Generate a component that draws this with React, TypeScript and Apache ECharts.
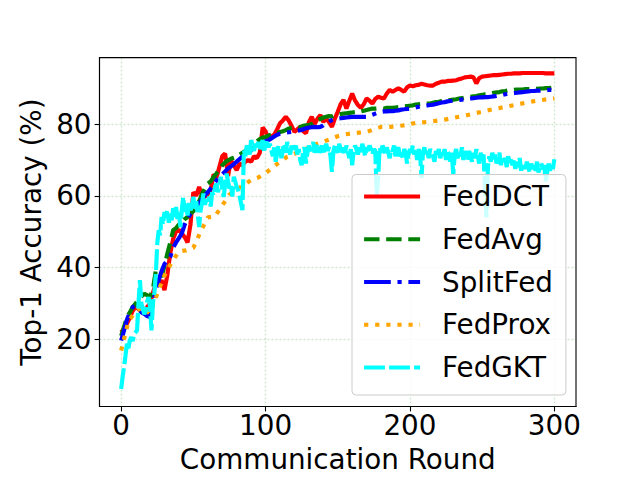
import React, { useEffect, useRef } from "react";
import * as echarts from "echarts";

const seriesNames = ["FedDCT", "FedAvg", "SplitFed", "FedProx", "FedGKT"];
const seriesColors = ["#ff0000", "#008000", "#0000ff", "#ffa500", "#00ffff"];
const xTicks = [0, 100, 200, 300];
const yTicks = [20, 40, 60, 80];

// every 2 rounds (0..300)
const fedDCT = [
  22, 23, 24.4, 26, 28, 29, 28.5, 27.8, 27.6, 29,
  30, 33, 35.5, 35, 36.5, 33.7, 38, 44, 48, 50,
  50.5, 49.5, 48.5, 47, 52, 61, 60, 62.5, 60, 59.7,
  60.5, 61.6, 66, 65, 68, 71, 71.8, 65.5, 69.9, 68.5,
  67.1, 69, 68.5, 69.5, 70, 69.5, 71, 70.5, 72, 79,
  78, 75.5, 76.5, 77, 78.5, 80.2, 81, 82, 81, 79.5,
  77.8, 78.5, 79.2, 78, 77.4, 80.5, 82, 80, 81.5, 82.5,
  80.6, 81.5, 80.5, 79.2, 81.5, 83.4, 85.5, 86.7, 84.3, 86.5,
  88.5, 86.5, 85.3, 84.5, 85.5, 87.1, 86.5, 85.7, 87, 87.6,
  87.3, 87.1, 88.5, 89.5, 89, 89.5, 89.9, 89.5, 89, 90.2,
  90.7, 90.5, 90.8, 90.9, 91.2, 91, 90.8, 90.7, 90.7, 91.2,
  91.5, 91.8, 91.8, 92, 92, 92.1, 92.2, 92.5, 92.7, 93,
  93.1, 93.2, 93, 91.3, 92.8, 93.2, 93.3, 93.4, 93.5, 93.6,
  93.6, 93.7, 93.8, 93.9, 94, 94, 94.1, 94.1, 94.1, 94.2,
  94.2, 94.2, 94.2, 94.2, 94.2, 94.2, 94.2, 94.1, 94.1, 94.1,
  94.1,
];

// every 2 rounds (0..300)
const fedAvg = [
  21, 23.5, 26.2, 27.5, 29, 30, 31, 32, 32.7, 32.3,
  31.8, 34, 39.2, 38.5, 37.4, 40.5, 43.9, 47, 50.4, 51,
  52, 52.5, 53.5, 54.1, 55, 55.7, 56.9, 58.5, 60.5, 62,
  63.4, 64, 65.2, 66.2, 67.3, 68.5, 69.3, 69.9, 70.3, 70.6,
  70.9, 71.5, 72, 72.5, 72.9, 73.5, 74.2, 75.2, 75.8, 76.2,
  76.4, 76.8, 77, 77.2, 77.5, 77.8, 78, 78.3, 78.7, 79,
  79.2, 79.3, 79.1, 79.5, 79.6, 79.7, 80, 80.5, 81, 81.4,
  81.8, 82, 82.2, 82.1, 82.5, 82.6, 82.8, 82.9, 83, 83.1,
  83.2, 83.3, 83.2, 83.5, 83.7, 83.9, 84.1, 84.3, 84.3, 84.4,
  84.4, 84.3, 84.5, 84.5, 84.5, 84.6, 84.7, 84.8, 84.9, 85,
  85.1, 85.2, 85.4, 85.5, 85.6, 85.6, 85.7, 85.7, 85.9, 86.1,
  86.2, 86.4, 86.5, 86.6, 86.7, 86.8, 86.9, 87.1, 87.2, 87.4,
  87.5, 87.6, 87.7, 87.8, 88, 88.1, 88.3, 88.4, 88.5, 88.7,
  88.8, 88.9, 89.1, 89.2, 89.4, 89.5, 89.5, 89.6, 89.6, 89.6,
  89.7, 89.7, 89.7, 89.8, 89.8, 89.9, 89.9, 90, 90, 90.1,
  90.1,
];

// every 2 rounds (0..300)
const splitFed = [
  19.7, 22.5, 25.5, 27.5, 29, 29.5, 28.5, 27.5, 27.1, 26.5,
  26.2, 30, 33.5, 36.5, 39, 41, 42, 43, 45.5, 47,
  48.2, 49.5, 52, 53.6, 55, 55.8, 56.9, 58, 59, 60.2,
  61, 62, 63.2, 64.3, 65.2, 66, 66.8, 67.6, 68.2, 68.8,
  69.5, 70.2, 70.9, 71.4, 72, 72.6, 73.2, 73.6, 74.3, 74.8,
  75.2, 75.5, 76, 76.5, 77, 77.3, 77.4, 77.6, 77.7, 77.8,
  77.9, 78.1, 78.3, 78.5, 78.8, 79, 79.1, 79.2, 79.1, 79.2,
  79.6, 80.2, 80.7, 81.1, 81.4, 81.5, 81.6, 81.7, 81.8, 81.9,
  82, 82, 82, 82, 82, 82, 82.3, 82.6, 82.9, 83.2,
  83.4, 83.5, 83.5, 83.6, 83.6, 83.7, 83.8, 84, 84.1, 84.2,
  84.2, 84.4, 84.6, 84.8, 85, 85.1, 85.2, 85.3, 85.4, 85.6,
  85.8, 86, 86.1, 86.3, 86.4, 86.5, 86.6, 86.7, 86.8, 86.9,
  87, 87.1, 87.2, 87.3, 87.4, 87.4, 87.5, 87.5, 87.6, 87.7,
  87.8, 88, 88.1, 88.3, 88.4, 88.5, 88.6, 88.7, 88.8, 88.9,
  89, 89.1, 89.2, 89.2, 89.3, 89.3, 89.4, 89.4, 89.5, 89.5,
  89.5,
];

// every 5 rounds (0..300)
const fedProx = [
  16.9, 25, 27.8, 29, 27.1, 32.7, 37.8, 41.5, 44.5, 44.8,
  45.5, 50, 54, 54.3, 57.3, 60.3, 61.8, 63, 64.4, 65.1,
  66.3, 67.9, 69.5, 70.9, 71.7, 72.5, 73.5, 74.4, 75.1, 75.8,
  76.6, 77.1, 77.4, 77.6, 77.8, 78.5, 79.2, 79.2, 79.3, 79.6,
  80, 80.4, 80.5, 80.7, 81, 81.3, 81.7, 82.1, 82.5, 83,
  83.4, 83.9, 84.3, 84.7, 85.1, 85.5, 85.9, 86.3, 86.6, 86.9,
  87.1,
];

// every round (0..300)
const fedGKT = [
  6.2, 9.5, 12.3, 15.5, 18.8, 17.5, 19.7, 20.6, 19.5, 21.5, 22,
  22.5, 30, 36.5, 30, 28.5, 27, 28, 30.5, 31.8, 29,
  22.5, 30, 33, 38, 46.7, 50.4, 49, 54.1, 52, 55.5,
  54, 56, 52.5, 55, 53.2, 56.5, 54, 56.9, 53.5, 55.5,
  51.3, 56, 59.7, 55.5, 57.8, 54.5, 58, 56, 57, 59.7,
  56.5, 58.5, 55, 51.3, 56, 58, 60.6, 57.5, 59, 58.5,
  59.7, 57, 61, 60, 62.5, 63.4, 61, 62.5, 65.3, 62,
  59.7, 63, 66.2, 64, 62, 63.4, 59.8, 65.3, 64, 62.5,
  61.6, 60, 58, 56, 72.7, 71, 74, 73, 71.5, 75.5,
  74, 72.5, 74.5, 73.6, 75, 73, 74.5, 75.5, 72, 74.5,
  75, 73.5, 74.5, 72.7, 71, 73.5, 69.5, 72, 74, 72.5,
  70.5, 73, 74.5, 72, 75, 73.5, 71.5, 74, 72.5, 73,
  74, 71.5, 73, 70, 68.5, 72.5, 73.5, 69, 72, 74,
  72.5, 73.5, 75, 72, 73.5, 74.5, 72, 73, 74, 71.5,
  73, 74.5, 72.5, 73.5, 71, 66.7, 72.5, 74, 73, 72,
  74.5, 73, 71.5, 73.5, 72, 74, 72.5, 70.5, 73, 68.5,
  72.5, 74, 73, 71.5, 73.5, 72, 74.5, 73, 71, 73.5,
  72.5, 74, 73, 71.5, 73, 72.5, 60.2, 65, 73.5, 72,
  74, 73, 71.5, 73.5, 72, 70.5, 73, 72.5, 74, 71,
  72.5, 73.5, 71, 72, 70.5, 73, 72, 69, 71.5, 73,
  72, 74, 71.5, 72.5, 70, 73, 71.5, 65, 72, 73.5,
  71, 72.5, 70.5, 73, 72, 71, 69.5, 72.5, 71.5, 73,
  70.5, 72, 71, 73, 70, 72.5, 71.5, 69.5, 72, 66,
  71.5, 73, 70.5, 72, 71, 73.5, 70, 72.5, 71, 70,
  72.5, 71, 69.5, 72, 70.5, 73, 71, 69, 72, 70.5,
  71.5, 62, 54, 68, 71, 69.5, 72, 70, 71.5, 69,
  70.5, 72, 68.5, 71, 69.5, 70.5, 68, 71, 69.5, 70,
  68.5, 70, 67.5, 69.5, 68, 70.5, 67, 69, 68.5, 67.5,
  69.5, 68, 66.5, 69, 67.5, 68.5, 67, 69.5, 66.5, 68,
  69, 67.5, 68.5, 64, 66.5, 69, 67, 68.5, 67.5, 70.2,
];

const FONT = "DejaVu Sans";
const FS = 27.8;
const LW = 4.17;
const dashes: any[] = [
  "solid",
  [15.4, 6.7],
  [26.7, 6.7, 4.2, 6.7],
  [4.2, 6.9],
  [20.8, 4.2],
];
const seriesData = [
  fedDCT.map((v, i) => [i * 2, v]),
  fedAvg.map((v, i) => [i * 2, v]),
  splitFed.map((v, i) => [i * 2, v]),
  fedProx.map((v, i) => [i * 5, v]),
  fedGKT.map((v, i) => [i, v]),
];

export default function App() {
  const ref = useRef<HTMLDivElement>(null);
  useEffect(() => {
    if (!ref.current) return;
    const chart = echarts.init(ref.current, undefined, { renderer: "svg" });
    const gridLine = {
      show: true,
      lineStyle: { color: "rgba(0,128,0,0.18)", width: 1.4, type: [2, 2] as any },
    };
    chart.setOption({
      animation: false,
      backgroundColor: "#ffffff",
      grid: {
        left: 99.5,
        right: 64,
        top: 57.6,
        bottom: 73.5,
        show: true,
        borderColor: "#000",
        borderWidth: 1.1,
        backgroundColor: "transparent",
      },
      legend: {
        orient: "vertical",
        left: 352,
        top: 174.5,
        data: seriesNames,
        itemWidth: 56,
        itemHeight: 30,
        itemGap: 12.75,
        padding: [7, 13, 12.5, 10],
        backgroundColor: "rgba(255,255,255,0.8)",
        borderColor: "#cccccc",
        borderWidth: 1,
        borderRadius: 4,
        lineStyle: { width: LW },
        itemStyle: { opacity: 0 },
        textStyle: {
          fontSize: FS,
          fontFamily: FONT,
          color: "#000",
          lineHeight: 30,
          padding: [0, 0, 0, 17],
        },
      },
      xAxis: {
        type: "value",
        min: -15,
        max: 315,
        name: "Communication Round",
        nameLocation: "middle",
        nameGap: 39,
        nameTextStyle: { fontSize: FS, fontFamily: FONT, color: "#000" },
        axisLine: { show: true, onZero: false, lineStyle: { color: "#000", width: 1.1 } },
        axisTick: {
          show: true,
          customValues: xTicks,
          length: 4.9,
          lineStyle: { color: "#000", width: 1.1 },
        },
        axisLabel: {
          customValues: xTicks,
          fontSize: FS,
          fontFamily: FONT,
          color: "#000",
          margin: 5,
        },
        splitLine: gridLine,
      },
      yAxis: {
        type: "value",
        min: 1.3,
        max: 98.5,
        name: "Top-1 Accuracy (%)",
        nameLocation: "middle",
        nameGap: 54,
        nameTextStyle: { fontSize: FS, fontFamily: FONT, color: "#000" },
        axisLine: { show: true, onZero: false, lineStyle: { color: "#000", width: 1.1 } },
        axisTick: {
          show: true,
          customValues: yTicks,
          length: 4.9,
          lineStyle: { color: "#000", width: 1.1 },
        },
        axisLabel: {
          customValues: yTicks,
          fontSize: FS,
          fontFamily: FONT,
          color: "#000",
          margin: 8,
        },
        splitLine: gridLine,
      },
      series: seriesNames.map((name, k) => ({
        name,
        type: "line",
        data: seriesData[k],
        showSymbol: false,
        symbol: "none",
        color: seriesColors[k],
        lineStyle: { color: seriesColors[k], width: LW, type: dashes[k] },
        itemStyle: { color: seriesColors[k] },
      })),
    });
    return () => chart.dispose();
  }, []);
  return (
    <div
      ref={ref}
      style={{ position: "fixed", left: 0, top: 0, width: 640, height: 480 }}
    />
  );
}
